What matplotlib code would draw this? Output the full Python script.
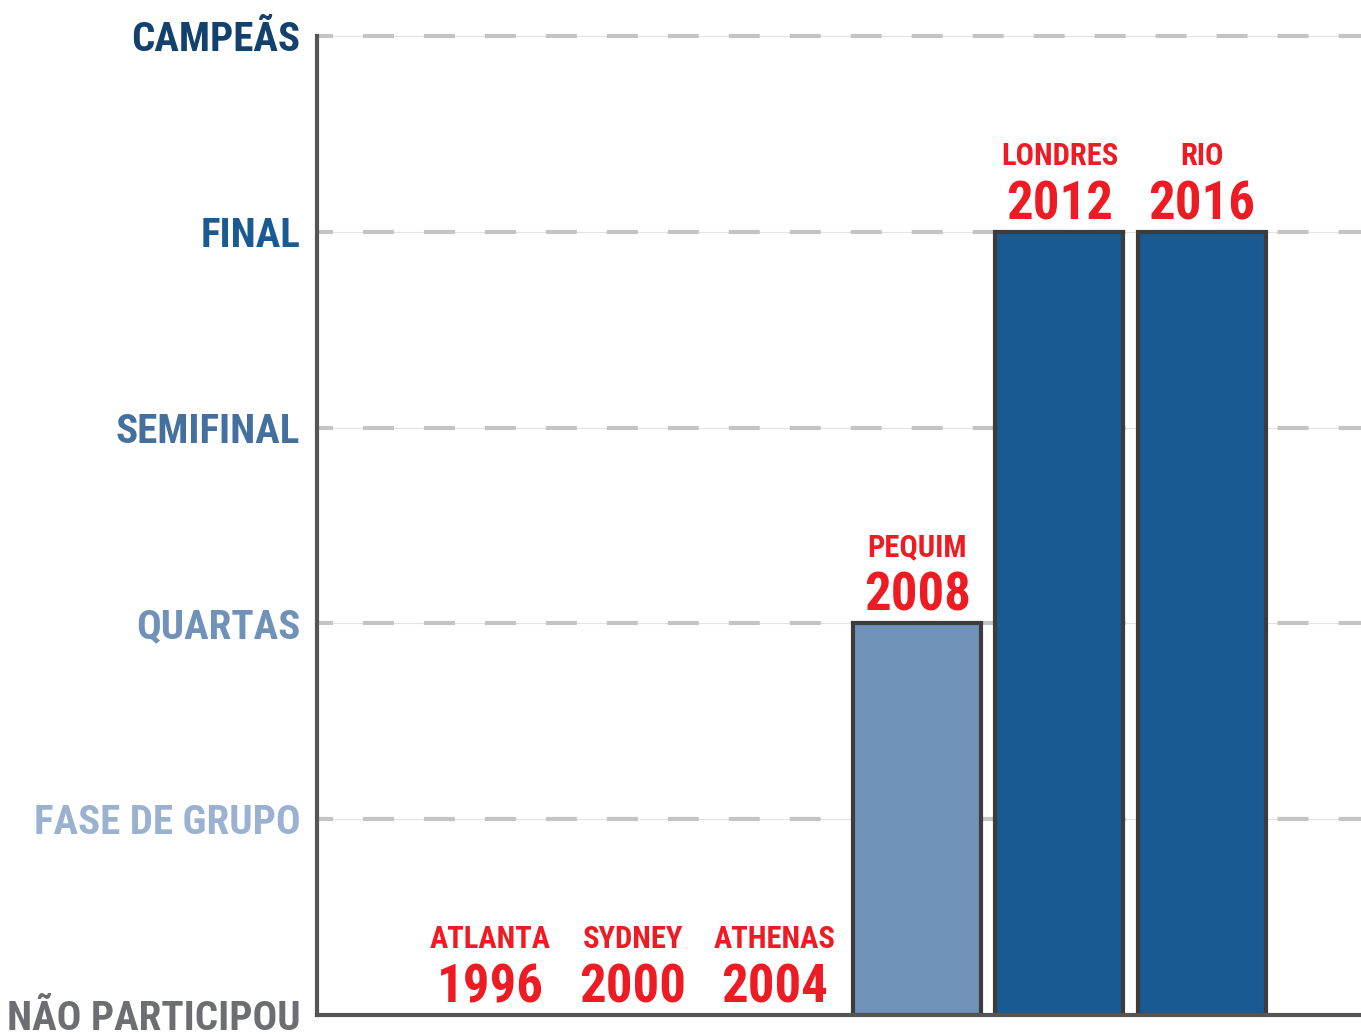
import numpy as np
import matplotlib
matplotlib.use("Agg")
from matplotlib import pyplot as plt
from matplotlib import font_manager

# data
years = ["1996", "2000", "2004", "2008", "2012", "2016"]
cities = ["ATLANTA", "SYDNEY", "ATHENAS", "PEQUIM", "LONDRES", "RIO"]
stage = [0, 0, 0, 2, 4, 4]
levels = ["NÃO PARTICIPOU", "FASE DE GRUPO", "QUARTAS", "SEMIFINAL", "FINAL", "CAMPEÃS"]
level_colors = ["#6d6e71", "#9ab2cf", "#7092b8", "#4470a0", "#1a5a93", "#12416e"]

# pick a condensed font if one is around
installed = {f.name for f in font_manager.fontManager.ttflist}
font = "DejaVu Sans"
for cand in ["Liberation Sans Narrow", "Roboto Condensed", "Open Sans Condensed", "DejaVu Sans Condensed"]:
    if cand in installed:
        font = cand
        break
plt.rcParams['font.family'] = [font, "DejaVu Sans"]
plt.rcParams['font.weight'] = 'bold'
plt.rcParams['lines.scale_dashes'] = False

fig = plt.figure(figsize=(13.61, 10.34), dpi=100)
ax = fig.add_axes([0.2329, 0.0184, 0.7671, 0.9468])

x = np.arange(len(years))
ax.set_xlim(-1.22, 6.12)
ax.set_ylim(0, 5)

# grid lines: thin solid + thick dashes on top
for lv in range(1, 6):
    ax.axhline(lv, color="#e3e3e3", lw=0.8, zorder=1, clip_on=False)
    ax.axhline(lv, color="#c4c4c4", lw=3, zorder=1.5, clip_on=False,
               linestyle=(10.8, (22.3, 21.6)))

bar_colors = [level_colors[s] for s in stage]
heights = np.array(stage, dtype=float)
edges = ["#3c3c3c" if s > 0 else "none" for s in stage]
ax.bar(x, heights, width=0.9, color=bar_colors, edgecolor=edges,
       linewidth=3, zorder=3)

red = "#ed1c24"
for xi, h, yr, city in zip(x, heights, years, cities):
    ax.annotate(yr, (xi, h), xytext=(0, 9), textcoords="offset points",
                ha="center", va="baseline", color=red, fontsize=38,
                fontweight="bold", zorder=5)
    ax.annotate(city, (xi, h), xytext=(0, 48), textcoords="offset points",
                ha="center", va="baseline", color=red, fontsize=22,
                fontweight="bold", zorder=5)

ax.set_yticks(range(6))
ax.set_yticklabels(levels, fontsize=29.5, fontweight="bold")
for lbl, c in zip(ax.get_yticklabels(), level_colors):
    lbl.set_color(c)
ax.tick_params(axis="y", length=0, pad=12)
ax.set_xticks([])

for s in ["top", "right"]:
    ax.spines[s].set_visible(False)
for s in ["left", "bottom"]:
    ax.spines[s].set_color("#555555")
    ax.spines[s].set_linewidth(3)
    ax.spines[s].set_zorder(4)

fig.savefig("out.png", dpi=100)
